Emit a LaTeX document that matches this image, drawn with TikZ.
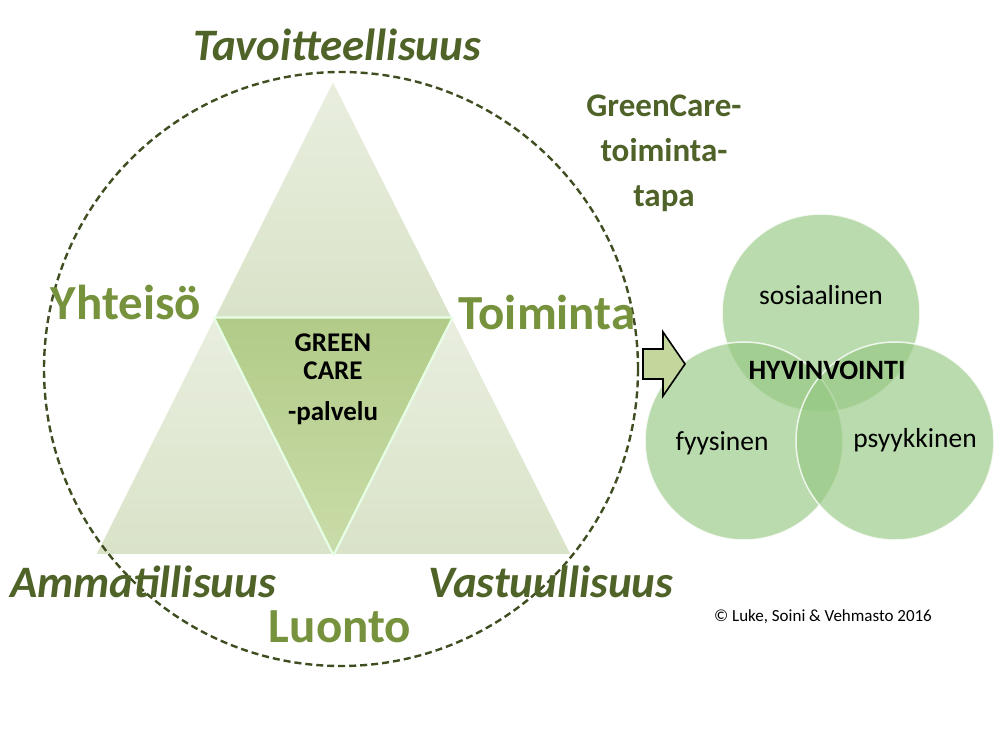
\documentclass[tikz,border=0pt]{standalone}
\usepackage{fontspec}
\setmainfont{Carlito}
\usetikzlibrary{calc}
\definecolor{darkolive}{HTML}{4F6228}
\definecolor{lightolive}{HTML}{76923C}
\definecolor{paletop}{HTML}{E9EEDF}
\definecolor{palebot}{HTML}{D9E3C8}
\definecolor{midtop}{HTML}{B2CB88}
\definecolor{midbot}{HTML}{CADCA9}
\definecolor{venn}{RGB}{150,200,130}
\definecolor{arrowfill}{HTML}{C3D69B}
\tikzset{
  outertri/.style={top color=paletop, bottom color=palebot, draw=white, line width=2pt, line join=round},
  innertri/.style={top color=midtop, bottom color=midbot, draw=white!90!green, line width=2pt, line join=round},
  ring/.style={circle, draw=darkolive!80!black, line width=2.4pt, dash pattern=on 7pt off 4pt, minimum size=594pt, inner sep=0pt},
  ital/.style={font=\fontsize{45}{48}\selectfont\bfseries\itshape, text=darkolive, inner sep=0pt},
  upr/.style={font=\fontsize{49}{52}\selectfont\bfseries, text=lightolive, inner sep=0pt},
  vennc/.style={circle, fill=venn, fill opacity=0.65, draw=white, draw opacity=0.8, line width=1.5pt, minimum size=198pt, inner sep=0pt},
  venntext/.style={font=\fontsize{27.5}{30}\selectfont, text=black, inner sep=0pt},
  centertext/.style={font=\fontsize{27}{30}\selectfont\bfseries, text=black, inner sep=0pt, align=center},
}
\begin{document}
\begin{tikzpicture}[x=1pt,y=-1pt]
\fill[white] (0,0) rectangle (1004,753);
\path[use as bounding box] (0,0) rectangle (1004,753);
% triangle vertices
\coordinate (A) at (333,80);
\coordinate (B) at (95,555);
\coordinate (C) at (572,555);
\coordinate (AB) at (214,317.5);
\coordinate (AC) at (452.5,317.5);
\coordinate (BC) at (333.5,555);
% outer triangles
\path[outertri] (A) -- (AB) -- (AC) -- cycle;
\path[outertri] (AB) -- (B) -- (BC) -- cycle;
\path[outertri] (AC) -- (BC) -- (C) -- cycle;
% center triangle
\path[innertri] (AB) -- (AC) -- (BC) -- cycle;
% dashed ring
\node[ring] (ring) at (341,369) {};
% center text
\node[centertext] (green) at (333,343) {GREEN};
\node[centertext] (care) at (333,371) {CARE};
\node[centertext] (palvelu) at (333,413) {-palvelu};
% labels
\node[ital] (tav) at (337,45) {Tavoitteellisuus};
\node[upr] (yht) at (126,302) {Yhteisö};
\node[upr] (toi) at (547,312) {Toiminta};
\node[ital] (amm) at (143,582) {Ammatillisuus};
\node[ital] (vas) at (551,582) {Vastuullisuus};
\node[upr] (luo) at (340,627) {Luonto};
\node[font=\fontsize{33}{45}\selectfont\bfseries, text=darkolive, align=center, inner sep=0pt] (gc) at (664,153) {GreenCare-\\toiminta-\\tapa};
% venn circles
\node[vennc] (sos) at (821,313) {};
\node[vennc] (fyy) at (744,441) {};
\node[vennc] (psy) at (895,441) {};
\node[venntext] (sost) at (821,295) {sosiaalinen};
\node[venntext] (fyyt) at (722,443) {fyysinen};
\node[venntext] (psyt) at (915,440) {psyykkinen};
\node[font=\fontsize{28}{30}\selectfont\bfseries, inner sep=0pt] (hyv) at (827,370) {HYVINVOINTI};
% arrow
\draw[fill=arrowfill, line width=1.6pt, line join=miter] (643,349) -- (663,349) -- (663,332) -- (685,364) -- (663,396) -- (663,379) -- (643,379) -- cycle;
% copyright
\node[font=\fontsize{17}{20}\selectfont, inner sep=0pt] (copy) at (823,617) {© Luke, Soini \& Vehmasto 2016};
\end{tikzpicture}
\end{document}
